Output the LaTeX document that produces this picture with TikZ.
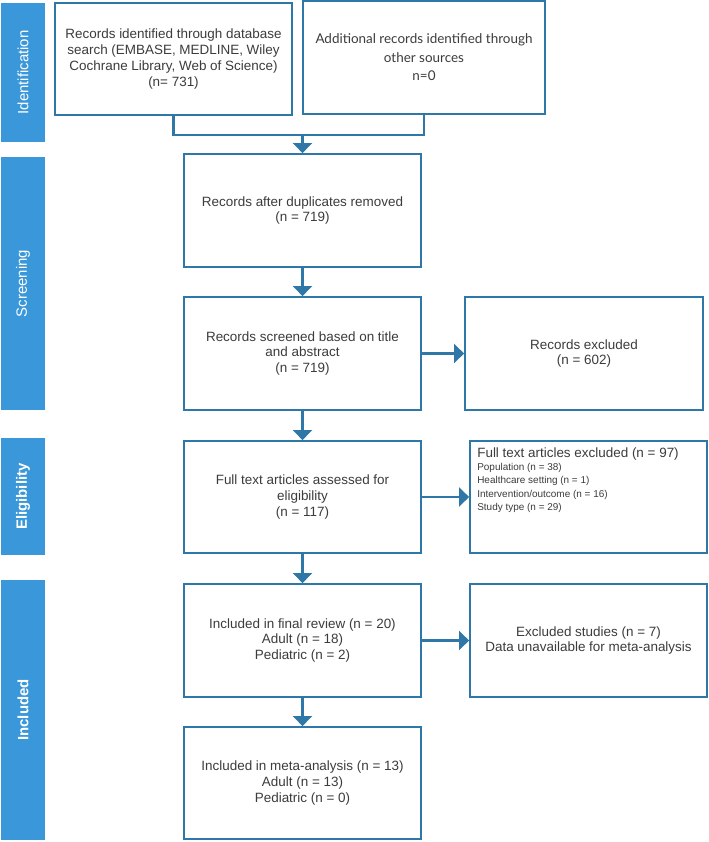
\documentclass[tikz,border=0pt]{standalone}
\usepackage{fontspec}
\setmainfont{Liberation Sans}
\newfontfamily\latofont{Lato}
\usetikzlibrary{arrows.meta}
\definecolor{barblue}{HTML}{3A97DA}
\definecolor{edgeblue}{HTML}{2F77A7}
\definecolor{txt}{HTML}{3C3C3C}
\begin{document}
\begin{tikzpicture}[x=1bp,y=-1bp,
  flowbox/.style={draw=edgeblue, line width=1.8bp, fill=white, rectangle, inner sep=2bp,
    align=center, text=txt, font=\fontsize{13.5}{15.8}\selectfont,
    minimum width=237bp, minimum height=113bp},
  phasebar/.style={fill=barblue, draw=none, rotate=90, minimum height=44bp, inner sep=0pt,
    text=white, font=\fontsize{15}{18}\selectfont},
  smalltxt/.style={font=\fontsize{10}{12.5}\selectfont},
  conn/.style={draw=edgeblue, line width=2.2bp},
  arr/.style={conn, -{Triangle[width=19bp,length=10bp]}}]
\useasboundingbox (0,0) rectangle (709,842);

% phase bars
\node[phasebar, minimum width=139bp] (p1) at (23,72.5) {Identification};
\node[phasebar, minimum width=253bp] (p2) at (23,283.5) {Screening};
\node[phasebar, minimum width=117bp, font=\fontsize{15}{18}\selectfont\bfseries] (p3) at (23,496.5) {Eligibility};
\node[phasebar, minimum width=260bp, font=\fontsize{15}{18}\selectfont\bfseries] (p4) at (23,710) {Included};

% boxes
\node[flowbox, minimum height=112bp] (A) at (173.5,59) {Records identified through database\\search (EMBASE, MEDLINE, Wiley\\Cochrane Library, Web of Science)\\(n= 731)};
\node[flowbox, minimum width=242bp, font=\latofont\fontsize{13.5}{18.5}\selectfont] (B) at (424,57.5) {Additional records identified through\\other sources\\n=0};
\node[flowbox] (C) at (302.5,210.5) {Records after duplicates removed\\(n = 719)};
\node[flowbox] (D) at (302.5,353.5) {Records screened based on title\\and abstract\\(n = 719)};
\node[flowbox, minimum width=238bp] (E) at (584,353.5) {Records excluded\\(n = 602)};
\node[flowbox, minimum height=112bp] (F) at (302.5,497) {Full text articles assessed for\\eligibility\\(n = 117)};
\node[flowbox, minimum height=112bp] (G) at (588.5,497) {};
\node[anchor=north west, align=left, text=txt, inner sep=0pt] (Gt) at ([shift={(8,7)}]G.north west)
  {\fontsize{13.5}{15}\selectfont Full text articles excluded (n = 97)\\[1.5bp]
   \fontsize{10}{12.5}\selectfont Population (n = 38)\\[1.5bp]
   \fontsize{10}{12.5}\selectfont Healthcare setting (n = 1)\\[1.5bp]
   \fontsize{10}{12.5}\selectfont Intervention/outcome (n = 16)\\[1.5bp]
   \fontsize{10}{12.5}\selectfont Study type (n = 29)};
\node[flowbox] (H) at (302.5,640.5) {Included in final review (n = 20)\\Adult (n = 18)\\Pediatric (n = 2)};
\node[flowbox] (J) at (588.5,640.5) {Excluded studies (n = 7)\\Data unavailable for meta-analysis};
\node[flowbox, minimum height=112bp] (I) at (302.5,783) {Included in meta-analysis (n = 13)\\Adult (n = 13)\\Pediatric (n = 0)};

% connectors
\coordinate (M) at (302.5,135);
\draw[conn] (A.south) |- (M) -| (B.south);
\draw[arr] (M) -- (C.north);
\draw[arr] (C) -- (D);
\draw[arr] (D) -- (E);
\draw[arr] (D) -- (F);
\draw[arr] (F) -- (G);
\draw[arr] (F) -- (H);
\draw[arr] (H) -- (J);
\draw[arr] (H) -- (I);
\end{tikzpicture}
\end{document}
